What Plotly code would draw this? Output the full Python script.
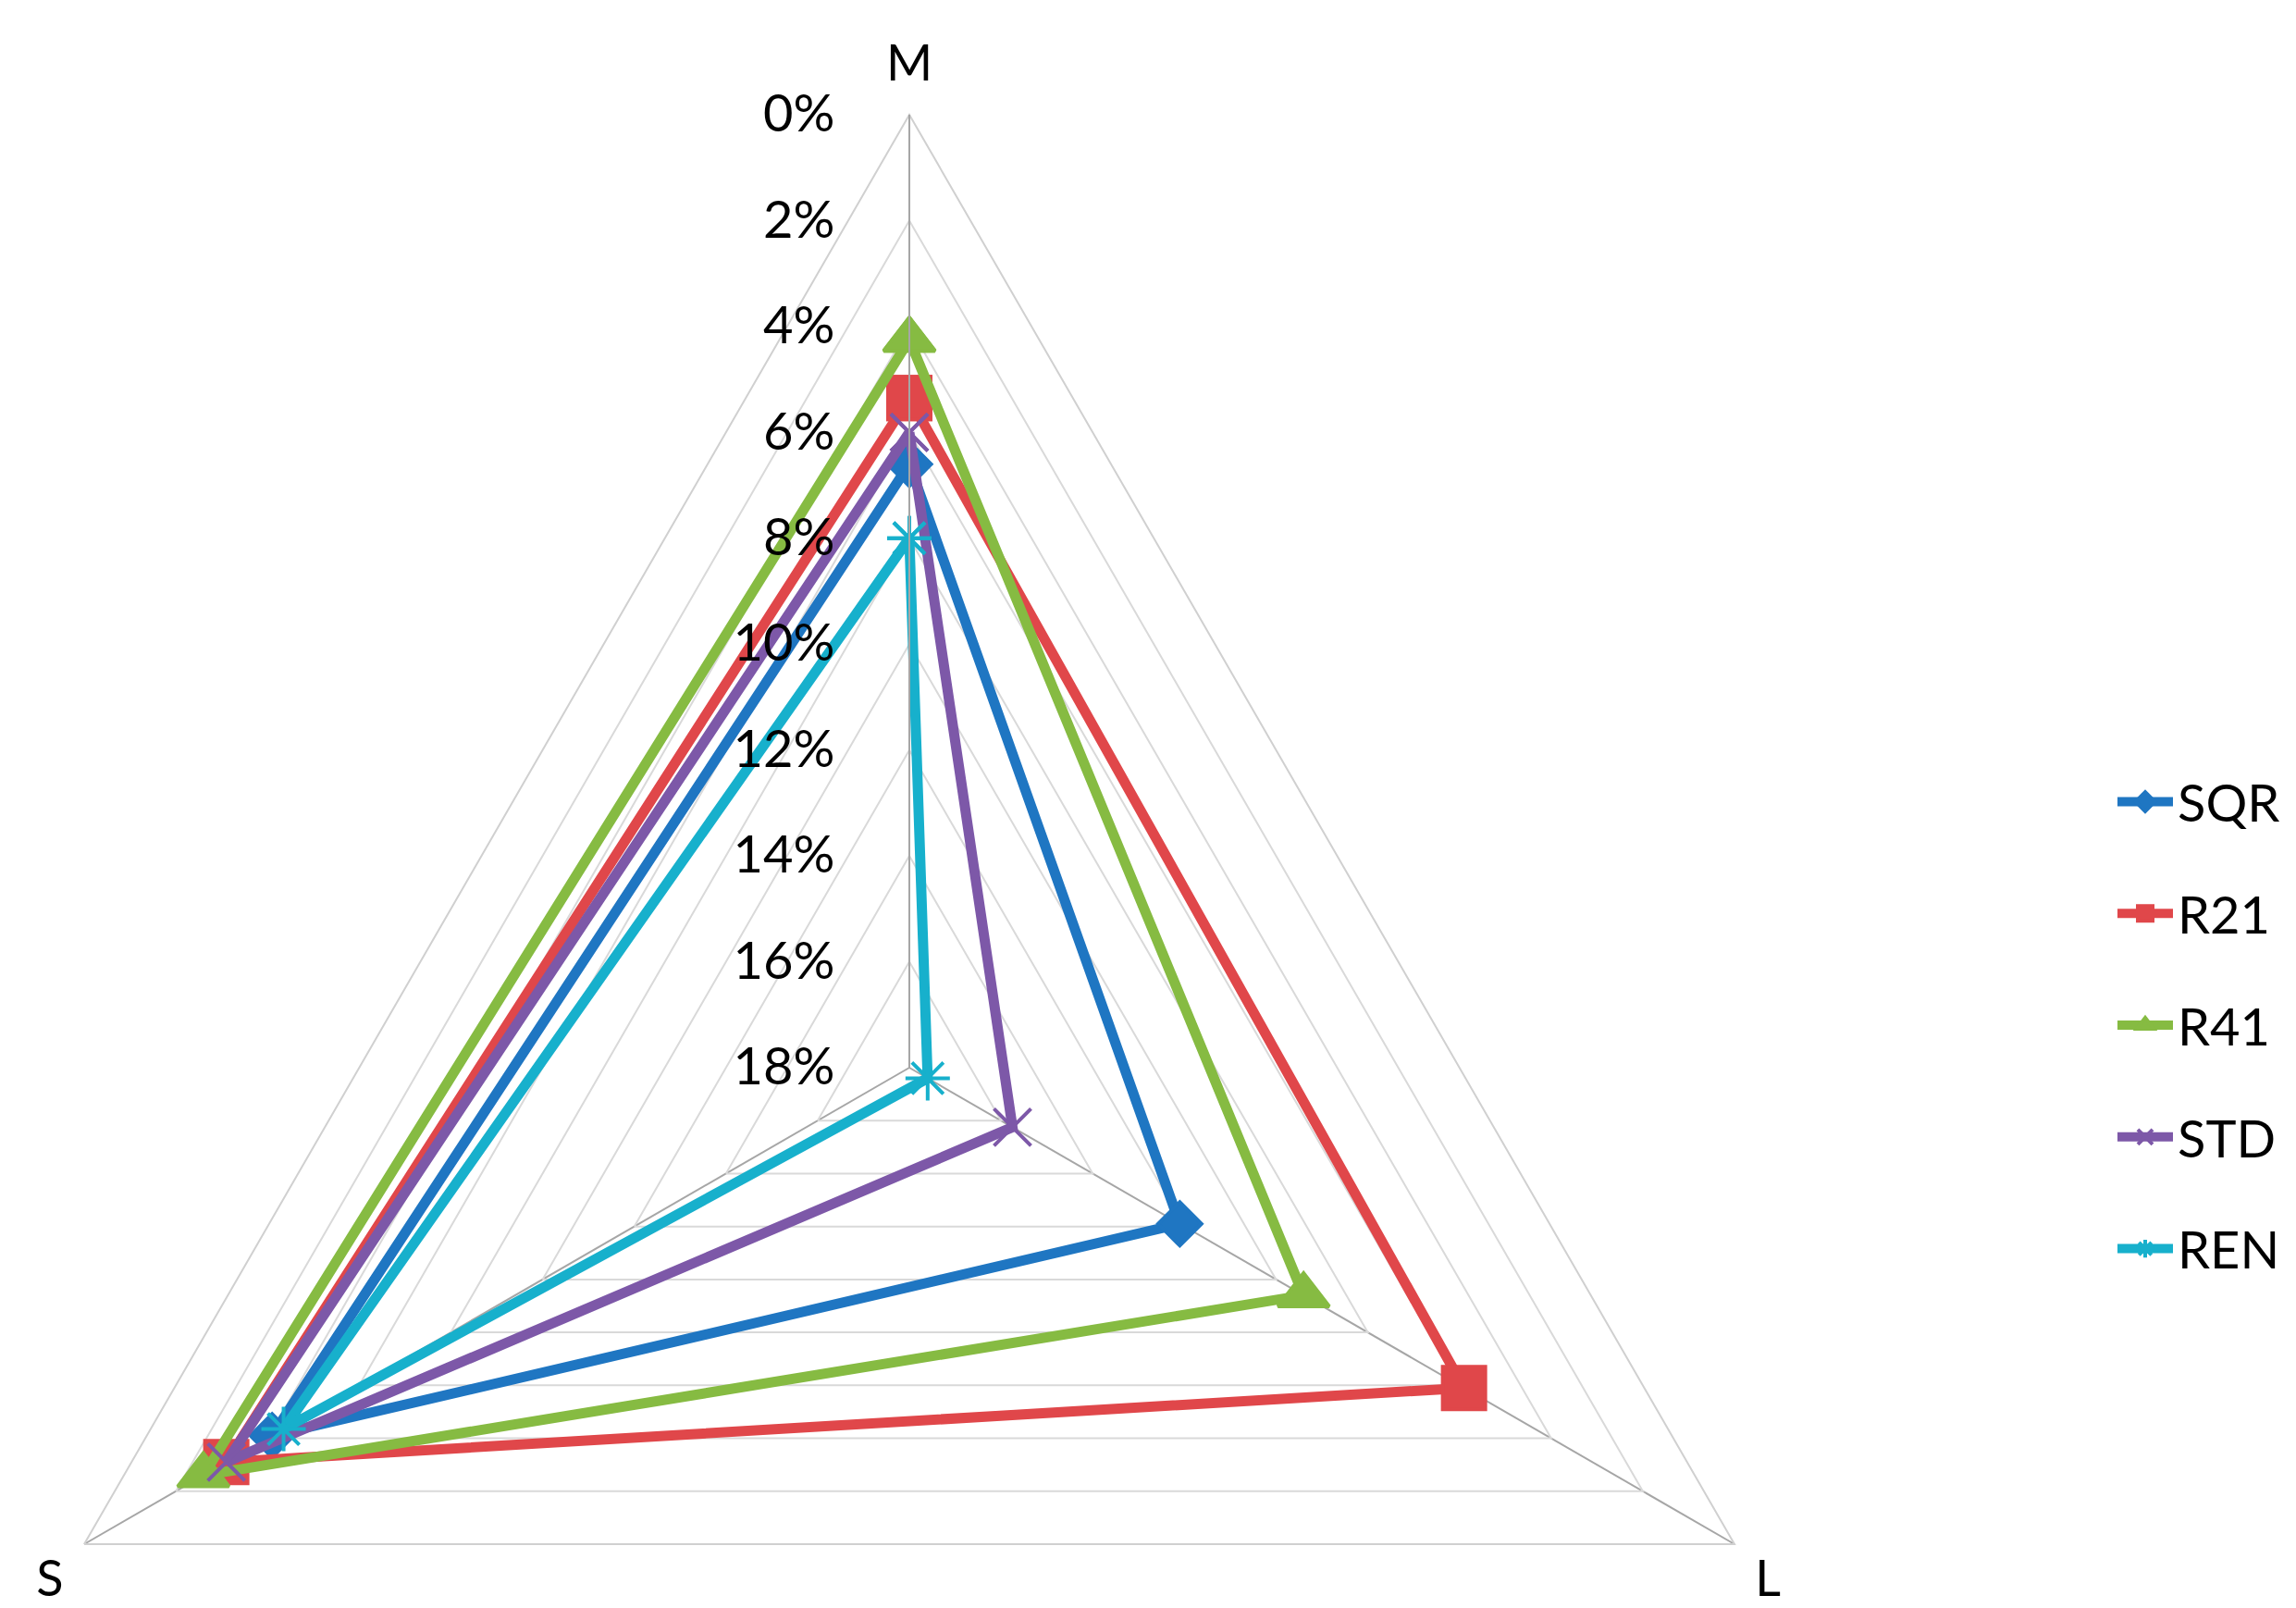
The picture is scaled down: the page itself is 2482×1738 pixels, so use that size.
import plotly.graph_objects as go

categories = ["M", "L", "S"]
series_names = ["SQR", "R21", "R41", "STD", "REN"]
SQR = [6.6, 12.1, 4.1]
R21 = [5.35, 5.9, 3.1]
R41 = [4.25, 9.4, 2.6]
STD = [6.0, 15.75, 3.1]
REN = [8.0, 17.6, 4.35]
tick_values = [0, 2, 4, 6, 8, 10, 12, 14, 16, 18]
tick_labels = ["0%", "2%", "4%", "6%", "8%", "10%", "12%", "14%", "16%", "18%"]

colors = ["#1F76C2", "#E0474A", "#86BB42", "#7D58A8", "#17B0CC"]
symbols = ["diamond", "square", "triangle-up", "x-thin-open", "asterisk-open"]
sizes = [36, 46, 48, 40, 40]

FONT = "Lato"
W, H = 2529, 2200
OFFX = 47

fig = go.Figure()
for name, vals, c, sym, sz in zip(series_names, [SQR, R21, R41, STD, REN], colors, symbols, sizes):
    fig.add_trace(go.Scatterpolar(
        r=vals + [vals[0]],
        theta=categories + [categories[0]],
        mode="lines+markers",
        name=name,
        legendgroup=name,
        line=dict(color=c, width=11),
        marker=dict(symbol=sym, size=sz, color=c, line=dict(color=c, width=4)),
    ))

fig.update_layout(
    width=W, height=H,
    margin=dict(l=0, r=0, t=0, b=0),
    paper_bgcolor="white",
    font=dict(family=FONT, size=56, color="#000000"),
    polar=dict(
        domain=dict(x=[0, 2060 / W], y=[(H - 2184) / H, (H - 124) / H]),
        bgcolor="white",
        gridshape="linear",
        angularaxis=dict(
            type="category",
            categoryarray=categories,
            rotation=90,
            direction="clockwise",
            showline=True, linecolor="#D0D0D0", linewidth=2,
            showgrid=True, gridcolor="#A6A6A6", gridwidth=2,
            ticks="outside", ticklen=14, tickcolor="rgba(0,0,0,0)",
            tickfont=dict(size=54, family=FONT, color="#000000"),
        ),
        radialaxis=dict(
            range=[18, 0],
            angle=90,
            side="counterclockwise",
            tickangle=90,
            tickvals=tick_values,
            ticktext=tick_labels,
            showline=True, linecolor="#A6A6A6", linewidth=2,
            showgrid=True, gridcolor="#D9D9D9", gridwidth=2,
            ticks="outside", ticklen=60, tickcolor="rgba(0,0,0,0)",
            tickfont=dict(size=56, family=FONT, color="#000000"),
        ),
    ),
    legend=dict(
        x=(2284 + OFFX) / W, y=(H - 1108) / H, xanchor="left", yanchor="middle",
        font=dict(size=56, family=FONT, color="#000000"),
        tracegroupgap=45, itemwidth=60,
        bgcolor="rgba(0,0,0,0)",
    ),
    showlegend=True,
)

post = (
    "var gd=document.getElementById('{plot_id}');"
    "gd.style.position='absolute';gd.style.left='-%dpx';gd.style.top='0px';"
    "document.documentElement.style.overflow='hidden';"
    "document.body.style.overflow='hidden';document.body.style.margin='0';" % OFFX
)
fig.write_html("out.html", post_script=post, config={"displayModeBar": False})
